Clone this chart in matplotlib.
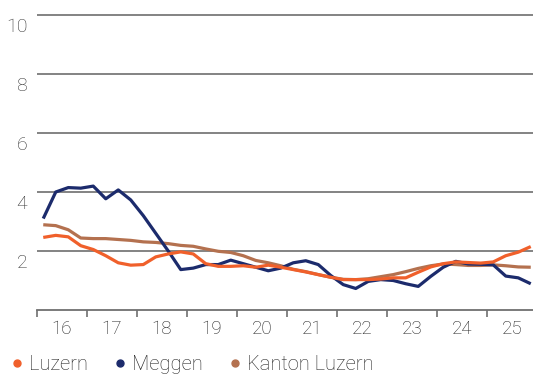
import matplotlib
matplotlib.use("Agg")
import matplotlib.pyplot as plt
from matplotlib.lines import Line2D
from matplotlib.transforms import ScaledTranslation
import numpy as np

years = ["16", "17", "18", "19", "20", "21", "22", "23", "24", "25"]
y_ticks = [2, 4, 6, 8, 10]

luzern = [2.46, 2.53, 2.48, 2.18, 2.05, 1.84, 1.60, 1.52, 1.54, 1.80,
          1.90, 1.97, 1.90, 1.57, 1.48, 1.48, 1.50, 1.45, 1.52, 1.45,
          1.37, 1.29, 1.20, 1.11, 1.03, 1.03, 1.03, 1.05, 1.09, 1.09,
          1.28, 1.46, 1.57, 1.63, 1.61, 1.59, 1.63, 1.84, 1.96, 2.15]
meggen = [3.10, 4.00, 4.15, 4.13, 4.20, 3.77, 4.07, 3.73, 3.20, 2.60,
          2.00, 1.37, 1.42, 1.54, 1.54, 1.69, 1.57, 1.45, 1.33, 1.42,
          1.60, 1.67, 1.54, 1.17, 0.86, 0.73, 0.97, 1.03, 1.00, 0.89,
          0.80, 1.14, 1.45, 1.65, 1.56, 1.55, 1.53, 1.15, 1.09, 0.89]
kanton = [2.89, 2.86, 2.72, 2.44, 2.42, 2.42, 2.39, 2.36, 2.31, 2.29,
          2.25, 2.19, 2.16, 2.07, 1.99, 1.95, 1.84, 1.68, 1.60, 1.50,
          1.38, 1.30, 1.20, 1.11, 1.04, 1.03, 1.06, 1.13, 1.20, 1.30,
          1.41, 1.50, 1.56, 1.54, 1.51, 1.51, 1.53, 1.50, 1.46, 1.45]

c_luz = "#F0602B"
c_meg = "#1C2B6C"
c_kan = "#B4714F"

plt.rcParams["font.family"] = ["Roboto", "DejaVu Sans"]
plt.rcParams["font.weight"] = "light"

W, H = 533, 374
fig = plt.figure(figsize=(W / 100, H / 100), dpi=100)
px_unit = 29.5
ymax = 10.15
left, right, y0 = 37, 533, 310
ax = fig.add_axes([left / W, (H - y0) / H, (right - left) / W, ymax * px_unit / H])

x = np.arange(len(luzern)) + 0.5
ax.plot(x, kanton, color=c_kan, lw=2.3, solid_capstyle="butt", zorder=3)
ax.plot(x, meggen, color=c_meg, lw=2.3, solid_capstyle="butt", zorder=4)
ax.plot(x, luzern, color=c_luz, lw=2.3, solid_capstyle="butt", zorder=5)

ax.set_xlim(0, (right - left) / 12.5)
ax.set_ylim(0, ymax)

for s in ["top", "right", "left"]:
    ax.spines[s].set_visible(False)
ax.spines["bottom"].set_color("#707070")
ax.spines["bottom"].set_linewidth(1.3)

ax.set_yticks(y_ticks)
ax.set_yticklabels([str(v) for v in y_ticks])
ax.yaxis.grid(True, color="#7a7a7a", lw=1.3)
ax.set_axisbelow(True)
ax.tick_params(axis="y", length=0, pad=7, labelsize=14, labelcolor="#333333")
for lab in ax.get_yticklabels():
    lab.set_transform(lab.get_transform() + ScaledTranslation(0, -0.10, fig.dpi_scale_trans))

ax.set_xticks(np.arange(0, 40, 4))
ax.set_xticklabels([])
ax.set_xticks(np.arange(len(years)) * 4 + 2, minor=True)
ax.set_xticklabels(years, minor=True)
ax.tick_params(axis="x", which="major", length=5, width=1.2, color="#707070", direction="out")
ax.tick_params(axis="x", which="minor", length=0, pad=7, labelsize=13.5, labelcolor="#222222")

handles = [Line2D([], [], ls="", marker="o", ms=5, color=c) for c in (c_luz, c_meg, c_kan)]
fig.legend(handles, ["Luzern", "Meggen", "Kanton Luzern"], loc="center left",
           bbox_to_anchor=(11 / W, 1 - 365 / H), ncol=3, frameon=False,
           handlelength=0.55, handletextpad=0.35, columnspacing=1.3,
           fontsize=14.5, labelcolor="#222222", borderaxespad=0, borderpad=0)

fig.savefig("out.png", dpi=100)
